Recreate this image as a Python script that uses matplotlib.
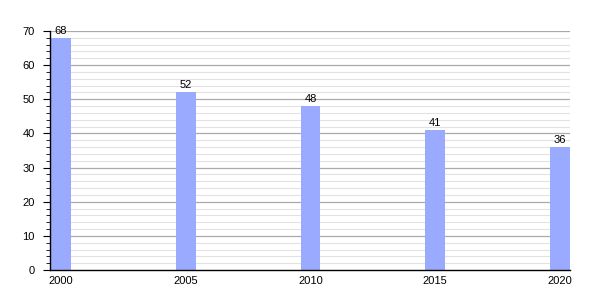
import matplotlib
matplotlib.use('Agg')
import matplotlib.pyplot as plt
import numpy as np

plt.rcParams['font.family'] = ['Liberation Sans', 'DejaVu Sans']

# data
years = [2000, 2005, 2010, 2015, 2020]
values = [68, 52, 48, 41, 36]

fig = plt.figure(figsize=(6, 3), dpi=100)
ax = fig.add_axes([0.0833, 0.1, 0.8667, 0.797])

# grid lines: minor every 2, major every 10
for y in np.arange(2, 71, 2):
    if y % 10 == 0:
        ax.axhline(y, color='#aaaaaa', lw=0.9, zorder=1)
    else:
        ax.axhline(y, color='#e2e2e2', lw=0.8, zorder=1)

bars = ax.bar(years, values, width=0.8, color='#99aaff', zorder=2)
for x, v in zip(years, values):
    ax.text(x, v + 0.6, str(v), ha='center', va='bottom', fontsize=8)

ax.set_xlim(1999.56, 2020.4)
ax.set_ylim(0, 70)
ax.set_xticks(years)
ax.set_xticklabels([str(y) for y in years])
ax.set_yticks(np.arange(0, 71, 10))
ax.set_yticks(np.arange(0, 71, 2), minor=True)
ax.tick_params(axis='both', labelsize=8)
ax.tick_params(axis='x', length=0, pad=4)
ax.tick_params(axis='y', which='major', length=5, width=0.8, pad=6)
ax.tick_params(axis='y', which='minor', length=3, width=0.6)

for s in ['top', 'right']:
    ax.spines[s].set_visible(False)
ax.spines['left'].set_linewidth(1)
ax.spines['bottom'].set_linewidth(1)

fig.savefig('out.png', dpi=100)
